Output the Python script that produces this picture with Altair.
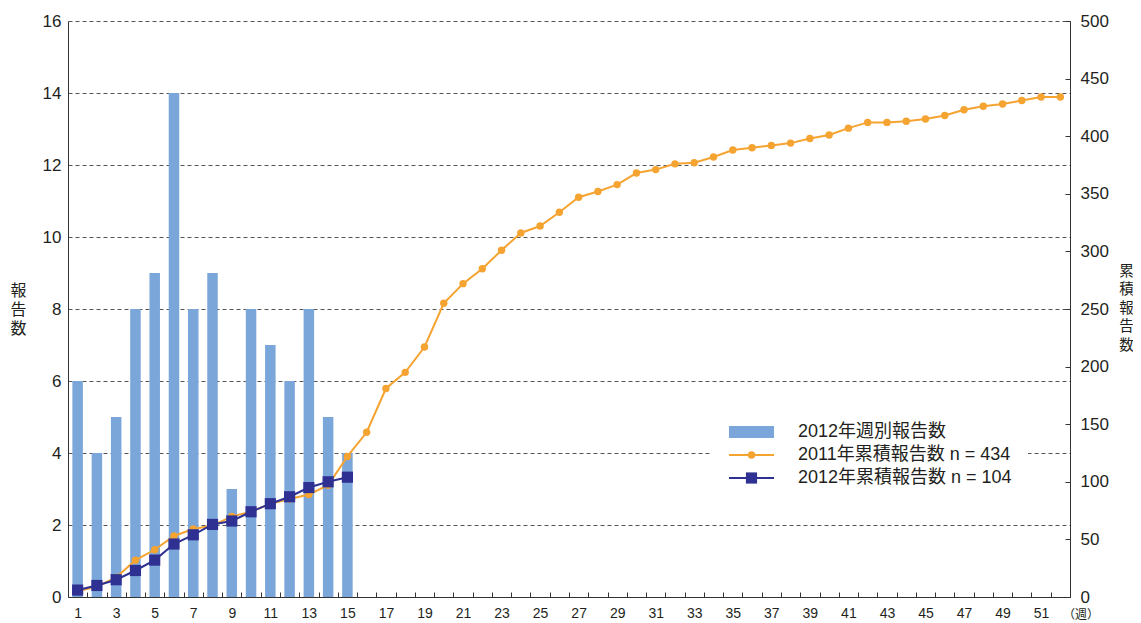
import altair as alt
import pandas as pd

weeks = list(range(1, 53))
weekly_2012 = [6, 4, 5, 8, 9, 14, 8, 9, 3, 8, 7, 6, 8, 5, 4]
cum_2012 = [6, 10, 15, 23, 32, 46, 54, 63, 66, 74, 81, 87, 95, 100, 104]
cum_2011 = [5, 9, 17, 32, 41, 53, 59, 62, 70, 74, 81, 85, 89, 97, 122, 143, 181, 195,
            217, 255, 272, 285, 301, 316, 322, 334, 347, 352, 358, 368, 371, 376, 377,
            382, 388, 390, 392, 394, 398, 401, 407, 412, 412, 413, 415, 418, 423, 426,
            428, 431, 434, 434]
left_ticks = [0, 2, 4, 6, 8, 10, 12, 14, 16]
right_ticks = [0, 50, 100, 150, 200, 250, 300, 350, 400, 450, 500]
legend_labels = ["2012年週別報告数", "2011年累積報告数 n = 434", "2012年累積報告数 n = 104"]

BAR = "#7ba6d9"
ORANGE = "#f5a331"
NAVY = "#2e3192"
TXT = "#231f20"
FONT = "Liberation Sans, Noto Sans CJK JP, sans-serif"

df_bar = pd.DataFrame({"week": weeks[:len(weekly_2012)], "n": weekly_2012})
df_c12 = pd.DataFrame({"week": weeks[:len(cum_2012)], "c": cum_2012})
df_c11 = pd.DataFrame({"week": weeks, "c": cum_2011})

x_enc = alt.X(
    "week:O",
    scale=alt.Scale(domain=weeks, paddingInner=0, paddingOuter=0),
    axis=alt.Axis(
        title=None, labelAngle=0, labelFontSize=14, labelColor=TXT,
        labelExpr="datum.value % 2 == 1 ? datum.label : ''",
        tickBand="extent", tickSize={"expr": "-5"}, tickColor="#333",
        labelPadding=14, domainColor="#333", grid=False,
    ),
)

bars = alt.Chart(df_bar).mark_bar(color=BAR, size=10.5).encode(
    x=x_enc,
    y=alt.Y(
        "n:Q",
        scale=alt.Scale(domain=[0, 16], nice=False),
        axis=alt.Axis(
            values=left_ticks, title=["報", "告", "数"], titleAngle=0,
            titleX=-50, titleY=261, titleAlign="center", titleBaseline="top",
            titleFontSize=16, titleLineHeight=19, titleFontWeight="normal",
            titleColor=TXT, labelFontSize=17, labelColor=TXT, labelPadding=7,
            ticks=False, domainColor="#333", grid=True, gridDash=[4, 3],
            gridColor="#555", gridWidth=1,
        ),
    ),
)

right_axis = alt.Axis(
    values=right_ticks, orient="right", title=["累", "積", "報", "告", "数"],
    titleAngle=0, titleX=56, titleY=243, titleAlign="center", titleBaseline="top",
    titleFontSize=14.5, titleLineHeight=18.5, titleFontWeight="normal",
    titleColor=TXT, labelFontSize=17, labelColor=TXT, labelPadding=15,
    tickSize={"expr": "-5"}, tickColor="#333", domainColor="#333", grid=False,
)
y_right = alt.Scale(domain=[0, 500], nice=False)

line11 = alt.Chart(df_c11).mark_line(
    color=ORANGE, strokeWidth=2,
    point=alt.OverlayMarkDef(filled=True, color=ORANGE, size=55, shape="circle", opacity=1),
).encode(x=x_enc, y=alt.Y("c:Q", scale=y_right, axis=right_axis))

line12 = alt.Chart(df_c12).mark_line(
    color=NAVY, strokeWidth=2,
    point=alt.OverlayMarkDef(filled=True, color=NAVY, size=125, shape="square", opacity=1),
).encode(x=x_enc, y=alt.Y("c:Q", scale=y_right, axis=right_axis))

one = alt.Data(values=[{"a": 1}])

legend_bg = alt.Chart(one).mark_rect(color="white").encode(
    x=alt.value(644), x2=alt.value(960), y=alt.value(400), y2=alt.value(470))
leg_swatch = alt.Chart(one).mark_rect(color=BAR).encode(
    x=alt.value(661), x2=alt.value(706), y=alt.value(405), y2=alt.value(417))
leg_l11 = alt.Chart(one).mark_rule(color=ORANGE, strokeWidth=2).encode(
    x=alt.value(661), x2=alt.value(706), y=alt.value(434))
leg_p11 = alt.Chart(one).mark_point(filled=True, color=ORANGE, size=55, shape="circle", opacity=1).encode(
    x=alt.value(683.5), y=alt.value(434))
leg_l12 = alt.Chart(one).mark_rule(color=NAVY, strokeWidth=2).encode(
    x=alt.value(661), x2=alt.value(706), y=alt.value(457))
leg_p12 = alt.Chart(one).mark_point(filled=True, color=NAVY, size=125, shape="square", opacity=1).encode(
    x=alt.value(683.5), y=alt.value(457))

leg_texts = [
    alt.Chart(one).mark_text(
        text=lab, align="left", baseline="middle", fontSize=18, color=TXT, font=FONT
    ).encode(x=alt.value(730), y=alt.value(yy))
    for lab, yy in zip(legend_labels, [411, 434, 457])
]

week_unit = alt.Chart(one).mark_text(
    text="（週）", fontSize=12, color=TXT, align="center", baseline="middle", font=FONT
).encode(x=alt.value(1013), y=alt.value(594))

lines = alt.layer(line11, line12)
legend = alt.layer(legend_bg, leg_swatch, leg_l11, leg_p11, leg_l12, leg_p12, *leg_texts, week_unit)

chart = alt.layer(bars, lines, legend).resolve_scale(y="independent").properties(
    width=1002, height=576,
    autosize=alt.AutoSizeParams(type="none"),
    padding={"left": 60, "top": 13, "right": 63, "bottom": 26},
    background="white",
).configure(font=FONT).configure_view(stroke=None)

chart.save("out.html", embed_options={"renderer": "svg", "actions": False})
